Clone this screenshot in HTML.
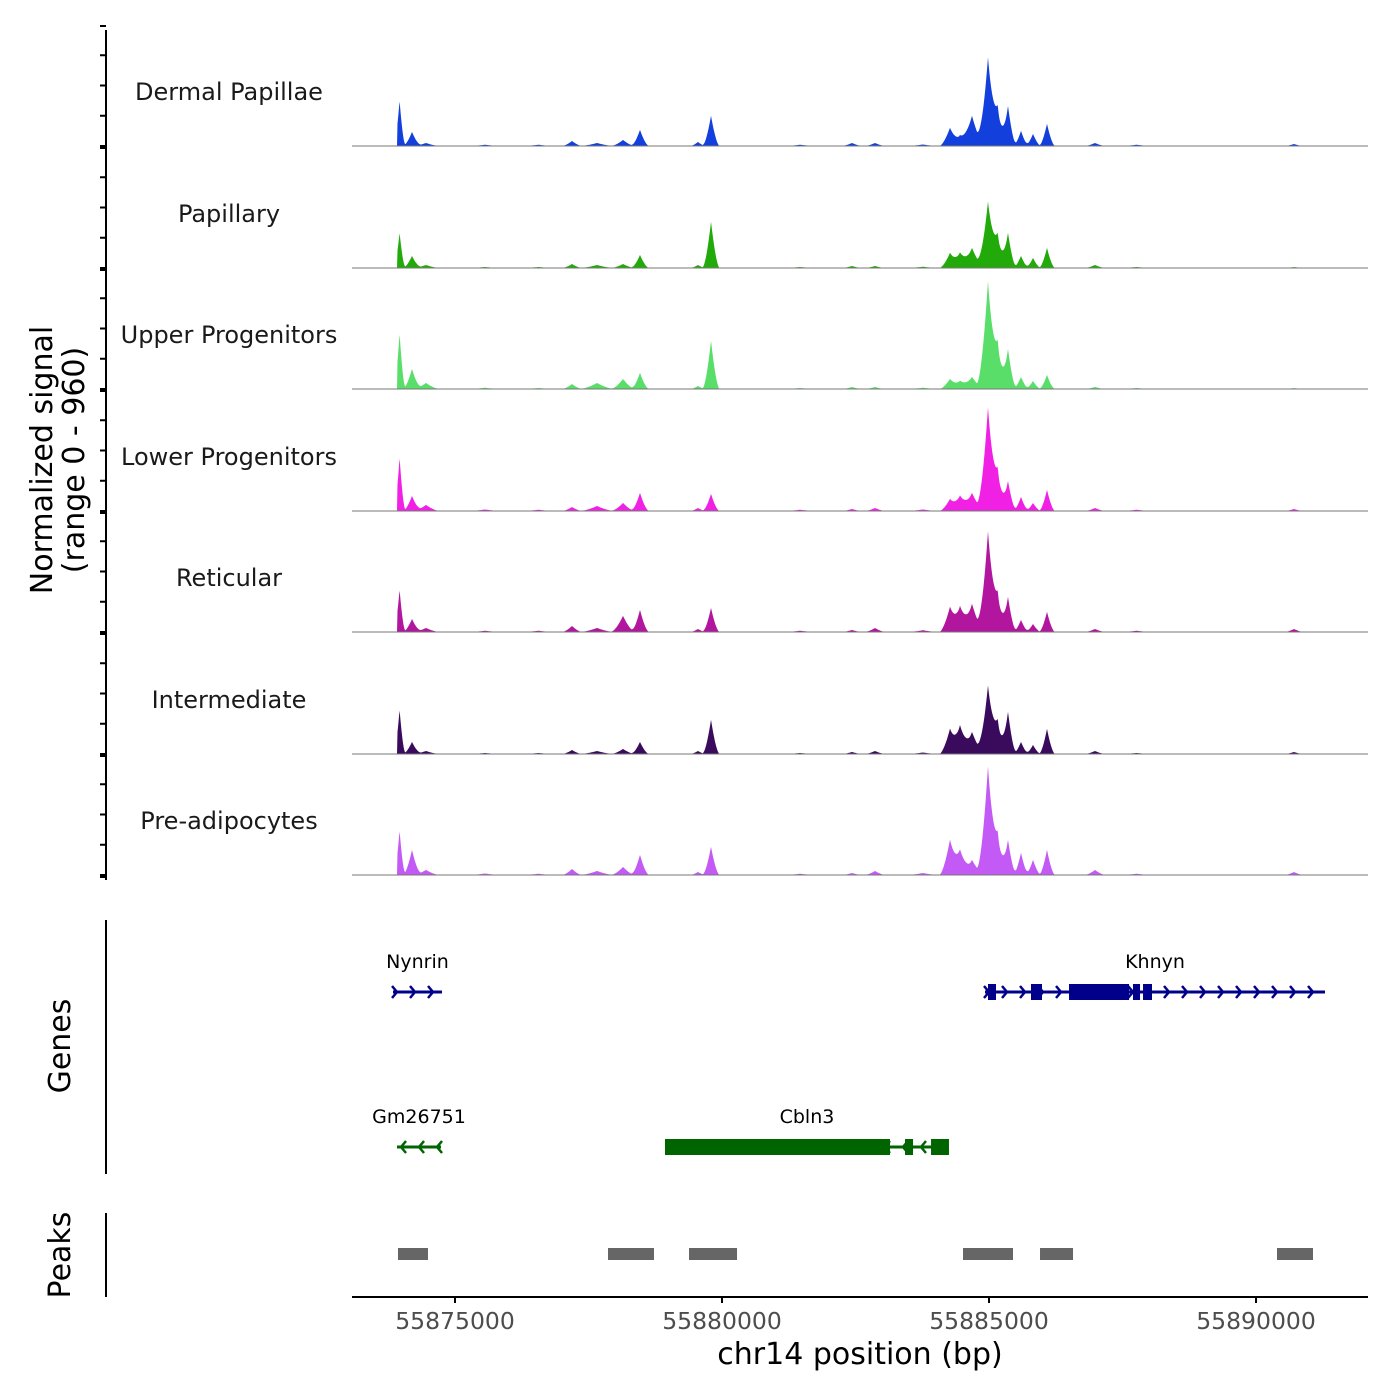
<!DOCTYPE html>
<html><head><meta charset="utf-8"><style>
body{margin:0;background:#fff}
svg{display:block;font-family:"DejaVu Sans","Liberation Sans",sans-serif}
</style></head><body>
<svg id="c" width="1400" height="1400" viewBox="0 0 1400 1400"></svg>
<script>
const trackNames=["Dermal Papillae","Papillary","Upper Progenitors","Lower Progenitors","Reticular","Intermediate","Pre-adipocytes"];
const trackColors=["#1340dc","#22aa0a","#5ade6a","#f020e4","#b2169e","#3a0a5c","#c45af5"];
const peakPos=[55873962,55874195,55874457,55877191,55877659,55878146,55878464,55879550,55879794,55882434,55882865,55884269,55884457,55884681,55884981,55885162,55885355,55885599,55885824,55886086,55886985,55890711,55875562,55876562,55881462,55883762,55887762];
const peakWidth=[110,170,260,190,330,230,170,150,160,200,200,200,200,250,210,180,160,150,150,150,200,180,300,300,300,300,300];
const sigDP=[360,112,24,40,24,48,128,32,240,24,24,144,80,240,704,300,320,120,96,176,24,16,10,10,10,12,10];
const sigPap=[280,96,24,32,24,32,104,24,368,16,16,120,120,160,528,260,280,96,80,160,24,8,8,8,8,10,8];
const sigUpper=[440,160,48,40,48,80,128,24,384,16,16,80,64,96,856,360,320,96,64,112,16,8,10,8,8,10,8];
const sigLower=[424,120,48,32,40,64,144,24,136,16,24,96,120,144,824,320,240,112,64,168,24,16,12,10,10,12,10];
const sigRet=[336,104,32,48,32,128,176,24,192,16,32,200,200,224,800,300,280,96,64,160,24,24,10,10,10,14,10];
const sigInt=[352,96,24,32,24,40,96,24,272,16,24,200,224,176,544,260,336,96,72,200,24,16,8,8,8,12,8];
const sigPre=[352,200,40,48,32,64,160,24,224,16,32,280,200,120,864,320,280,176,120,200,40,24,12,10,10,16,10];
const signals=[sigDP,sigPap,sigUpper,sigLower,sigRet,sigInt,sigPre];
const xTicks=[55875000,55880000,55885000,55890000];
const peakRegions=[[55873932,55874494],[55877865,55878726],[55879382,55880281],[55884513,55885449],[55885955,55886573],[55890393,55891067]];
const genes=[
 {name:"Nynrin",strand:1,start:55873839,end:55874756,row:0,color:"#00008b",exons:[]},
 {name:"Khnyn",strand:1,start:55884925,end:55891292,row:0,color:"#00008b",exons:[[55884981,55885131],[55885786,55885992],[55886498,55887622],[55887696,55887828],[55887884,55888052]]},
 {name:"Gm26751",strand:-1,start:55873914,end:55874738,row:1,color:"#006400",exons:[]},
 {name:"Cbln3",strand:-1,start:55878932,end:55884250,row:1,color:"#006400",exons:[[55878932,55883146],[55883427,55883577],[55883914,55884250]]}
];
const X0=55873071,X1=55892097,PL=352,PR=1368;
const xs=v=>PL+(v-X0)/(X1-X0)*(PR-PL);
const NS="http://www.w3.org/2000/svg";
const svg=document.getElementById('c');
function mk(t,a,p){const e=document.createElementNS(NS,t);for(const k in a)e.setAttribute(k,a[k]);(p||svg).appendChild(e);return e;}
const base=[146,268,389,511,632,754,875],TH=121;
const ys=(v,b)=>b-v/960*TH;
signals.forEach((s,ti)=>{
  const b=base[ti];
  const g=mk('g',{});
  
  
  let d='M'+PL+','+b;
  const startX=xs(55873922);
  for(let x=PL;x<=PR;x+=0.5){
    const bp=X0+(x-PL)/(PR-PL)*(X1-X0);
    let v=0;
    if(x>=startX){for(let i=0;i<peakPos.length;i++){const dd=Math.abs(bp-peakPos[i])/peakWidth[i];if(dd<1)v+=s[i]*Math.pow(1-dd,1.6);}}
    d+=' L'+x+','+ys(Math.min(v,960),b).toFixed(1);
  }
  d+=' L'+PR+','+b+'Z';
  const p=mk('path',{d:d,fill:trackColors[ti]},g);
  
  
  const l=mk('line',{x1:PL,x2:PR,y1:b,y2:b,stroke:'#777','stroke-width':1},g);
  
  
  const t=mk('text',{x:229,y:b-46,'text-anchor':'middle','font-size':24,fill:'#1a1a1a'},g);
  t.textContent=trackNames[ti];
  
  
  for(let k=0;k<5;k++){const y=b-TH+k*TH/4+(k==0?1:0);mk('line',{x1:100,x2:106,y1:y,y2:y,stroke:'#000','stroke-width':2},g);}
  mk('line',{x1:100,x2:106,y1:b+2,y2:b+2,stroke:'#000','stroke-width':2},g);
});
function ax(x1,y1,x2,y2,n){const e=mk('line',{x1,y1,x2,y2,stroke:'#000','stroke-width':2});}
ax(106,30,106,880,'signal-y-axis');ax(106,920,106,1174,'genes-y-axis');ax(106,1213,106,1297,'peaks-y-axis');
ax(PL,1297,PR,1297,'x-axis');
function txt(s,a,n){const e=mk('text',a);e.textContent=s;return e;}
const yt=mk('text',{transform:'translate(52,460) rotate(-90)','text-anchor':'middle','font-size':30,fill:'#000'});

const ts1=mk('tspan',{x:0,dy:0},yt);ts1.textContent='Normalized signal';
const ts2=mk('tspan',{x:0,dy:32},yt);ts2.textContent='(range 0 - 960)';
txt('Genes',{transform:'translate(70,1046) rotate(-90)','text-anchor':'middle','font-size':30},'genes-axis-title');
txt('Peaks',{transform:'translate(70,1255) rotate(-90)','text-anchor':'middle','font-size':30},'peaks-axis-title');
xTicks.forEach(v=>{const x=xs(v);mk('line',{x1:x,x2:x,y1:1297,y2:1303,stroke:'#000','stroke-width':2});
  txt(String(v),{x:x,y:1329,'text-anchor':'middle','font-size':23.5,fill:'#4d4d4d'},'x-tick-label');});
txt('chr14 position (bp)',{x:860,y:1364,'text-anchor':'middle','font-size':30},'x-axis-title');
peakRegions.forEach(r=>{const e=mk('rect',{x:xs(r[0]),y:1248,width:xs(r[1])-xs(r[0]),height:12,fill:'#666'});
  });
genes.forEach(gn=>{
  const y=gn.row==0?992:1147;
  const g=mk('g',{});
  
  
  const x1=xs(gn.start),x2=xs(gn.end);
  mk('line',{x1:x1,x2:x2,y1:y,y2:y,stroke:gn.color,'stroke-width':3},g);
  for(let x=x1+4;x<=x2;x+=18){const dx=gn.strand*5;mk('polyline',{points:`${x-dx},${y-6} ${x},${y} ${x-dx},${y+6}`,fill:'none',stroke:gn.color,'stroke-width':2.5},g);}
  gn.exons.forEach(e=>{mk('rect',{x:xs(e[0]),y:y-8,width:Math.max(xs(e[1])-xs(e[0]),3),height:16,fill:gn.color},g);});
  const t=mk('text',{x:(x1+x2)/2,y:y-24,'text-anchor':'middle','font-size':19,fill:'#000'},g);
  t.textContent=gn.name;
});
</script>
</body></html>
